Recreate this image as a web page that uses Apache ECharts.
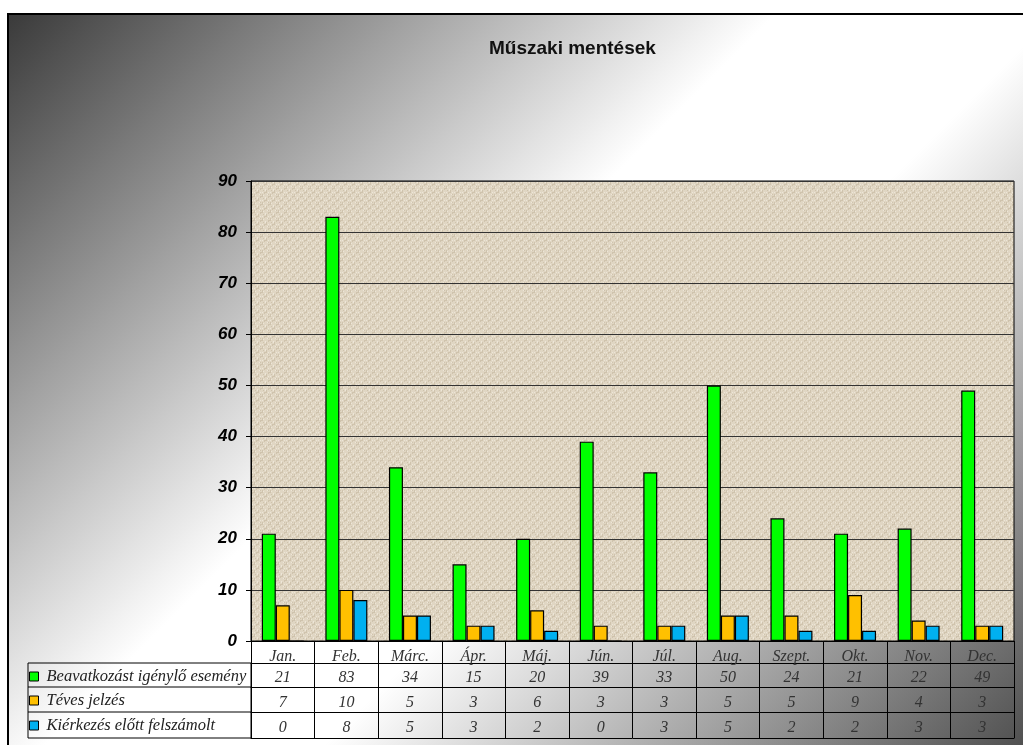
<!DOCTYPE html>
<html>
<head>
<meta charset="utf-8">
<title>Műszaki mentések</title>
<script src="https://cdn.jsdelivr.net/npm/echarts@6/dist/echarts.min.js"></script>
<style>
  html, body { margin: 0; padding: 0; background: #fff; }
  #chartBox { width: 1023px; height: 745px; }
</style>
</head>
<body>
<div id="chartBox"></div>
<script>
// data
var months = ['Jan.', 'Feb.', 'Márc.', 'Ápr.', 'Máj.', 'Jún.', 'Júl.', 'Aug.', 'Szept.', 'Okt.', 'Nov.', 'Dec.'];
var seriesNames = ['Beavatkozást igénylő esemény', 'Téves jelzés', 'Kiérkezés előtt felszámolt'];
var beavatkozas = [21, 83, 34, 15, 20, 39, 33, 50, 24, 21, 22, 49];
var tevesJelzes = [7, 10, 5, 3, 6, 3, 3, 5, 5, 9, 4, 3];
var felszamolt = [0, 8, 5, 3, 2, 0, 3, 5, 2, 2, 3, 3];
var yTicks = [0, 10, 20, 30, 40, 50, 60, 70, 80, 90];

var colors = ['#00ff00', '#ffc000', '#00b0f0'];
var serifFont = '"Liberation Serif", "Times New Roman", serif';
var sansFont = '"Liberation Sans", Arial, sans-serif';

// small linen-like tile for the plot area
function makeTexture() {
    var c = document.createElement('canvas');
    c.width = 8; c.height = 8;
    var ctx = c.getContext('2d');
    ctx.fillStyle = '#e0d6c3';
    ctx.fillRect(0, 0, 8, 8);
    ctx.fillStyle = '#cfc3ad';
    for (var i = 0; i < 8; i += 2) {
        ctx.fillRect(i, (i * 3) % 8, 1, 2);
        ctx.fillRect((i * 5 + 1) % 8, i, 2, 1);
    }
    ctx.fillStyle = '#ede6d8';
    for (var j = 1; j < 8; j += 3) {
        ctx.fillRect(j, (j + 4) % 8, 1, 1);
        ctx.fillRect((j + 2) % 8, (j * 2) % 8, 1, 1);
    }
    return c;
}

// one row of the data table, drawn as an extra category axis under the grid
function tableRow(values, offset, tickLen, margin) {
    return {
        type: 'category',
        gridIndex: 0,
        position: 'bottom',
        offset: offset,
        data: values.map(String),
        boundaryGap: true,
        axisLine: { show: true, lineStyle: { color: '#000', width: 1 } },
        axisTick: { show: true, interval: 0, length: tickLen, lineStyle: { color: '#000' } },
        axisLabel: {
            interval: 0, margin: margin,
            fontFamily: serifFont, fontStyle: 'italic', fontSize: 16, color: '#333'
        },
        splitLine: { show: false }
    };
}

var chart = echarts.init(document.getElementById('chartBox'));

var rowLegend = function (idx, top) {
    return {
        data: [seriesNames[idx]],
        orient: 'vertical',
        left: 29, top: top,
        padding: 0,
        itemWidth: 9, itemHeight: 9,
        icon: 'rect',
        itemStyle: { borderColor: '#000', borderWidth: 1 },
        textStyle: { fontFamily: serifFont, fontStyle: 'italic', fontSize: 16.5, color: '#222', padding: [0, 0, 0, 3] },
        selectedMode: false
    };
};

var option = {
    backgroundColor: '#ffffff',
    animation: false,
    title: {
        text: 'Műszaki mentések',
        left: 489, top: 39,
        padding: 0,
        textStyle: { fontFamily: sansFont, fontWeight: 'bold', fontSize: 19, color: '#111' }
    },
    legend: [rowLegend(0, 668), rowLegend(1, 692), rowLegend(2, 717)],
    graphic: [
        {
            type: 'rect', z: -10,
            shape: { x: 8, y: 14, width: 1020, height: 736 },
            style: {
                fill: {
                    type: 'linear', global: true,
                    x: 8, y: 14, x2: 881, y2: 887,
                    colorStops: [
                        { offset: 0, color: '#3a3a3a' },
                        { offset: 0.44, color: '#ffffff' },
                        { offset: 0.6, color: '#ffffff' },
                        { offset: 1, color: '#505050' }
                    ]
                },
                stroke: '#000', lineWidth: 2
            }
        },
        // left column of the data table
        { type: 'rect', z: 5, shape: { x: 28, y: 663, width: 223, height: 75 }, style: { fill: null, stroke: '#000', lineWidth: 1 } },
        { type: 'line', z: 5, shape: { x1: 28, y1: 687, x2: 251, y2: 687 }, style: { stroke: '#000', lineWidth: 1 } },
        { type: 'line', z: 5, shape: { x1: 28, y1: 712, x2: 251, y2: 712 }, style: { stroke: '#000', lineWidth: 1 } }
    ],
    grid: {
        left: 251, right: 9, top: 181, bottom: 104,
        show: true,
        backgroundColor: { image: makeTexture(), repeat: 'repeat' },
        borderColor: '#000', borderWidth: 1
    },
    xAxis: [
        {
            type: 'category',
            data: months,
            position: 'bottom',
            boundaryGap: true,
            axisLine: { show: true, lineStyle: { color: '#000', width: 1 } },
            axisTick: { show: true, interval: 0, length: 22, lineStyle: { color: '#000' } },
            axisLabel: {
                interval: 0, margin: 8,
                fontFamily: serifFont, fontStyle: 'italic', fontSize: 16, color: '#333'
            }
        },
        tableRow(beavatkozas, 22, 25, 7),
        tableRow(tevesJelzes, 46, 25, 8),
        tableRow(felszamolt, 71, 26, 8),
        {
            // bottom border of the table
            type: 'category', data: months, position: 'bottom', offset: 97,
            axisLine: { show: true, lineStyle: { color: '#000' } },
            axisTick: { show: false }, axisLabel: { show: false }
        }
    ],
    yAxis: {
        type: 'value',
        min: yTicks[0],
        max: yTicks[yTicks.length - 1],
        interval: 10,
        axisLine: { show: true, lineStyle: { color: '#000' } },
        axisTick: { show: true, length: 5, lineStyle: { color: '#000' } },
        axisLabel: {
            margin: 14,
            fontFamily: sansFont, fontStyle: 'italic', fontWeight: 'bold', fontSize: 17, color: '#000'
        },
        splitLine: { show: true, lineStyle: { color: '#333', width: 1 } }
    },
    series: [
        { name: seriesNames[0], data: beavatkozas },
        { name: seriesNames[1], data: tevesJelzes },
        { name: seriesNames[2], data: felszamolt }
    ].map(function (s, i) {
        return {
            name: s.name,
            type: 'bar',
            xAxisIndex: 0,
            data: s.data,
            barWidth: 14,
            barGap: '0%',
            itemStyle: { color: colors[i], borderColor: '#000', borderWidth: 1.2 }
        };
    })
};

chart.setOption(option);
</script>
</body>
</html>
